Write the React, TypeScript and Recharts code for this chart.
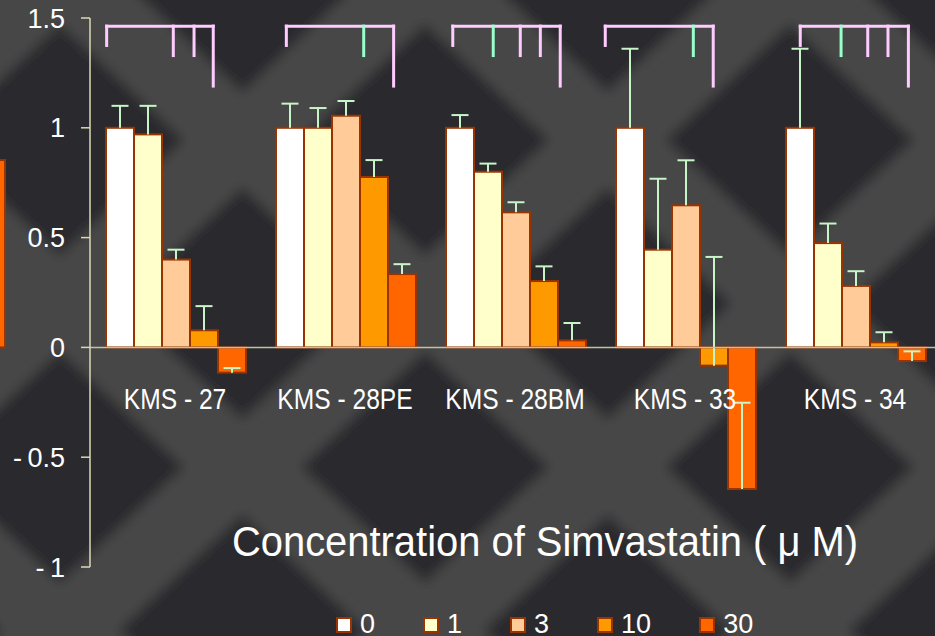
import React from "react";
import { Bar, BarChart, Legend, ReferenceLine, XAxis, YAxis } from "recharts";

// cell lines and simvastatin doses (uM)
const cellLines = ["KMS-27", "KMS-28PE", "KMS-28BM", "KMS-33", "KMS-34"];
const doses = ["0", "1", "3", "10", "30"];
const yTicks = [-1, -0.5, 0, 0.5, 1, 1.5];
const axisTitle = "Concentration of Simvastatin ( \u03bc M)";

// relative growth, one array per dose
const dose0 = [1.0, 1.0, 1.0, 1.0, 1.0];
const dose1 = [0.97, 1.0, 0.8, 0.445, 0.475];
const dose3 = [0.4, 1.055, 0.615, 0.647, 0.28];
const dose10 = [0.078, 0.776, 0.302, -0.083, 0.023];
const dose30 = [-0.115, 0.334, 0.032, -0.645, -0.062];

// upper error (SD)
const err0 = [0.1, 0.11, 0.058, 0.36, 0.36];
const err1 = [0.13, 0.09, 0.037, 0.323, 0.089];
const err3 = [0.045, 0.067, 0.046, 0.205, 0.067];
const err10 = [0.11, 0.077, 0.067, 0.495, 0.046];
const err30 = [0.021, 0.045, 0.079, 0.393, 0.044];

// tail of the previous chart, cut by the left edge
const prevValue = [0.853];
const prevErr = [0.13];

// significance brackets, positions inside each cell-line group (0..1)
const bracketLeft = [0.098, 0.155, 0.134, 0.031, 0.178];
const bracketRight = [0.725, 0.786, 0.766, 0.666, 0.814];
const pinkTicks = [[0.49, 0.612], [], [0.531, 0.649], [], [0.575, 0.694]];
const greenTicks = [[], [0.61], [0.372], [0.549], [0.418]];
const bracketTop = 1.463;
const leftLegEnd = 1.375;
const tickEnd = 1.329;
const rightLegEnd = 1.19;

const fills = ["#ffffff", "#ffffcc", "#ffcc99", "#ff9900", "#ff6600"];
const edge = "#993300";
const errColor = "#c8f5c8";
const pink = "#ffccff";
const mint = "#99ffcc";

const valueKeys = ["d0", "d1", "d3", "d10", "d30"];
const errKeys = ["e0", "e1", "e3", "e10", "e30"];
const valueArrays = [dose0, dose1, dose3, dose10, dose30];
const errArrays = [err0, err1, err3, err10, err30];

const rows = cellLines.map((name, i) => {
  const row: Record<string, any> = { name, pos: i + 0.5 };
  valueKeys.forEach((k, s) => (row[k] = valueArrays[s][i]));
  errKeys.forEach((k, s) => (row[k] = errArrays[s][i]));
  return row;
});

const prevRows = prevValue.map((v, i) => ({ name: "", v, e: prevErr[i] }));

// bar with a one-sided (upward) error bar
const barShape = (valueKey: string, errKey: string) => (p: any) => {
  const v = p.payload[valueKey];
  const e = p.payload[errKey];
  const top = Math.min(p.y, p.y + p.height);
  const h = Math.abs(p.height);
  const end = v >= 0 ? top : top + h;
  const perUnit = v !== 0 ? h / Math.abs(v) : 0;
  const cx = p.x + p.width / 2;
  const errEnd = end - e * perUnit;
  return (
    <g>
      <rect x={p.x} y={top} width={p.width} height={h} fill={p.fill} stroke={edge} strokeWidth={2} />
      <line x1={cx} y1={end} x2={cx} y2={errEnd} stroke={errColor} strokeWidth={2} />
      <line x1={cx - 8.5} y1={errEnd} x2={cx + 8.5} y2={errEnd} stroke={errColor} strokeWidth={2} />
    </g>
  );
};

const spaced = (s: string) => s.replace("-", " - ");
const fmtY = (v: number) => (v < 0 ? "-\u2009" + Math.abs(v) : String(v));

// the cell-line labels are set in a condensed face
const CellTick = (p: any) => (
  <text transform={`translate(${p.x} 409) scale(0.82 1)`} textAnchor="middle" fill="#ffffff" fontSize={30}>
    {spaced(p.payload.value)}
  </text>
);

const AxisTitle = () => (
  <text x={545} y={556} textAnchor="middle" fill="#ffffff" fontSize={42} textLength={626} lengthAdjust="spacingAndGlyphs">
    {axisTitle}
  </text>
);

const DoseLegend = () => (
  <div style={{ display: "flex", alignItems: "center", whiteSpace: "nowrap" }}>
    {doses.map((d, i) => (
      <div key={d} style={{ display: "flex", alignItems: "center", marginRight: 48 }}>
        <span
          style={{
            width: 12,
            height: 12,
            background: fills[i],
            border: `2px solid ${edge}`,
            marginRight: 8,
            display: "inline-block",
          }}
        />
        <span style={{ color: "#fff", fontSize: 27, lineHeight: "27px" }}>{d}</span>
      </div>
    ))}
  </div>
);

const segs: { x1: number; y1: number; x2: number; y2: number; color: string }[] = [];
cellLines.forEach((_, i) => {
  const l = i + bracketLeft[i];
  const r = i + bracketRight[i];
  segs.push({ x1: l, y1: bracketTop, x2: r, y2: bracketTop, color: pink });
  segs.push({ x1: l, y1: bracketTop, x2: l, y2: leftLegEnd, color: pink });
  segs.push({ x1: r, y1: bracketTop, x2: r, y2: rightLegEnd, color: pink });
  pinkTicks[i].forEach((t) => segs.push({ x1: i + t, y1: bracketTop, x2: i + t, y2: tickEnd, color: pink }));
  greenTicks[i].forEach((t) => segs.push({ x1: i + t, y1: bracketTop, x2: i + t, y2: tickEnd, color: mint }));
});

const diamond = (cx: number, cy: number, a: number, b: number) =>
  `${cx - a},${cy} ${cx},${cy - b} ${cx + a},${cy} ${cx},${cy + b}`;

// backdrop: dark diamonds between lighter lattice bands
const Lattice = () => {
  const w = 365;
  const h = 327;
  const a = 124;
  const b = 116;
  return (
    <svg width={935} height={636} style={{ position: "absolute", left: 0, top: 0 }}>
      <defs>
        <pattern id="lat" patternUnits="userSpaceOnUse" x={60} y={140} width={w} height={h}>
          <rect width={w} height={h} fill="#474746" />
          {[
            [0, 0],
            [w, 0],
            [0, h],
            [w, h],
            [w / 2, h / 2],
          ].map(([x, y]) => (
            <polygon key={`${x}-${y}`} points={diamond(x, y, a, b)} fill="#292c2e" />
          ))}
        </pattern>
        <filter id="soft" x="-5%" y="-5%" width="110%" height="110%">
          <feGaussianBlur stdDeviation={6} />
        </filter>
      </defs>
      <rect x={-30} y={-30} width={995} height={696} fill="url(#lat)" filter="url(#soft)" />
    </svg>
  );
};

export default function App() {
  return (
    <div
      style={{
        position: "fixed",
        left: 0,
        top: 0,
        width: 935,
        height: 636,
        overflow: "hidden",
        background: "#2e3031",
        fontFamily: "'Liberation Sans', Arial, sans-serif",
      }}
    >
      <Lattice />
      <div style={{ position: "absolute", left: -24, top: 0 }}>
        <BarChart width={44} height={636} data={prevRows} margin={{ top: 18, right: 14, bottom: 69, left: 0 }} barCategoryGap={1}>
          <XAxis dataKey="name" hide />
          <YAxis hide domain={[-1, 1.5]} ticks={yTicks} />
          <Bar dataKey="v" fill={fills[4]} isAnimationActive={false} shape={barShape("v", "e")} />
        </BarChart>
      </div>
      <div style={{ position: "absolute", left: 0, top: 0 }}>
        <BarChart
          width={950}
          height={636}
          data={rows}
          margin={{ top: 18, right: 10, bottom: 39, left: 0 }}
          barCategoryGap={16}
          barGap={0}
        >
          <XAxis
            dataKey="name"
            height={30}
            axisLine={false}
            tickLine={false}
            tick={<CellTick />}
            interval={0}
            label={<AxisTitle />}
          />
          <XAxis xAxisId="b" dataKey="pos" type="number" domain={[0, 5]} allowDataOverflow hide />
          <YAxis
            width={90}
            domain={[-1, 1.5]}
            ticks={yTicks}
            interval={0}
            tickFormatter={fmtY}
            tickSize={9}
            tickMargin={16}
            axisLine={{ stroke: "#dcd8b4", strokeWidth: 1.5 }}
            tickLine={{ stroke: "#dcd8b4", strokeWidth: 1.5 }}
            tick={{ fill: "#ffffff", fontSize: 27 }}
          />
          {valueKeys.map((k, s) => (
            <Bar
              key={k}
              dataKey={k}
              name={doses[s]}
              fill={fills[s]}
              isAnimationActive={false}
              shape={barShape(k, errKeys[s])}
            />
          ))}
          <ReferenceLine y={0} stroke="#c8bea0" strokeWidth={1.5} />
          {segs.map((g, n) => (
            <ReferenceLine
              key={n}
              xAxisId="b"
              segment={[
                { x: g.x1, y: g.y1 },
                { x: g.x2, y: g.y2 },
              ]}
              stroke={g.color}
              strokeWidth={3}
              strokeLinecap="square"
            />
          ))}
          <Legend
            layout="horizontal"
            align="center"
            verticalAlign="middle"
            wrapperStyle={{ top: 611, left: 336, width: "auto" }}
            content={<DoseLegend />}
          />
        </BarChart>
      </div>
    </div>
  );
}
